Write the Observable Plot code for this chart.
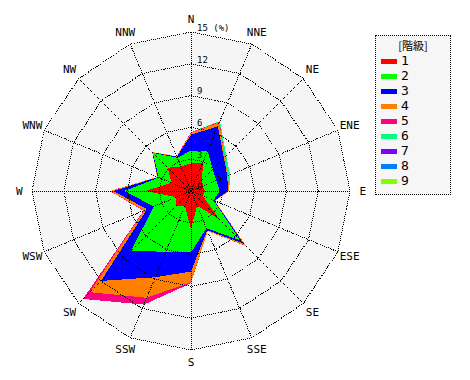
<!DOCTYPE html>
<html><head><meta charset="utf-8">
<script src="https://cdn.jsdelivr.net/npm/d3@7"></script>
<script src="https://cdn.jsdelivr.net/npm/@observablehq/plot@0.6"></script>
<style>
body{margin:0;background:#fff;}
#wrap{position:relative;width:470px;height:380px;}
#legend{position:absolute;left:375px;top:35px;width:74px;height:158px;border:1px dotted #000;background:#f6f6f6;font-family:"DejaVu Sans Mono",monospace;font-size:13px;color:#000;}
#legend .title{position:absolute;left:0;width:74px;top:2px;text-align:center;font-family:"Noto Sans CJK JP",sans-serif;font-size:11px;line-height:14px;}
#legend .row{position:absolute;left:5px;height:14px;line-height:14px;}
#legend .sw{position:absolute;left:0;top:5px;width:16px;height:5px;}
#legend .lb{position:absolute;left:20px;top:0;}
</style>
</head><body>
<div id="wrap"></div>
<script>
const directions = ["N","NNE","NE","ENE","E","ESE","SE","SSE","S","SSW","SW","WSW","W","WNW","NW","NNW"];
const ringValues = [3, 6, 9, 12, 15];
const tickValues = [0, 3, 6, 9, 12, 15];
const tickLabels = ["0", "3", "6", "9", "12", "15 (%)"];
const classNames = ["1","2","3","4","5","6","7","8","9"];
const classColors = ["#ff0000","#00ff00","#0000ff","#ff8000","#ff0080","#00ff80","#8000ff","#0080ff","#80ff00"];
const legendTitle = "[階級]";

// percentages per direction (N clockwise) for each class
const class1 = [2.6, 2.9, 1.5, 1.2, 1.3, 1.2, 3.8, 1.5, 3.6, 1.5, 2.0, 1.5, 4.3, 2.0, 3.1, 2.5];
const class2 = [1.2, 1.2, 1.4, 1.4, 1.4, 1.1, 2.8, 2.3, 2.2, 4.7, 6.0, 2.3, 2.0, 1.3, 2.0, 0.9];
const class3 = [1.5, 2.5, 1.5, 1.1, 0.8, 0.1, 0.4, 0.2, 1.8, 2.6, 4.0, 0.7, 1.0, 0.1, 0.05, 0.1];
const class4 = [0.2, 0.4, 0.1, 0.1, 0.1, 0.05, 0.3, 0.1, 1.0, 2.1, 1.5, 0.3, 0.3, 0.05, 0.05, 0.05];
const class5 = [0.05, 0.05, 0, 0, 0, 0, 0.05, 0, 0.1, 0.7, 0.9, 0.05, 0.05, 0, 0, 0];
const class6 = [0, 0.1, 0.2, 0.2, 0, 0, 0, 0, 0, 0, 0, 0, 0, 0, 0, 0];
const class7 = [0, 0, 0, 0, 0, 0, 0, 0, 0, 0, 0, 0, 0, 0, 0, 0];
const class8 = [0, 0, 0, 0, 0, 0, 0, 0, 0, 0, 0, 0, 0, 0, 0, 0];
const class9 = [0, 0, 0, 0, 0, 0, 0, 0, 0, 0, 0, 0, 0, 0, 0, 0];

const allClasses = [class1, class2, class3, class4, class5, class6, class7, class8, class9];
const ang = i => i * Math.PI / 8;
const px = (v, i) => v * Math.sin(ang(i));
const py = (v, i) => v * Math.cos(ang(i));

// cumulative layers
const layers = allClasses.map((_, k) =>
  directions.map((d, i) => {
    let s = 0;
    for (let j = 0; j <= k; j++) s += allClasses[j][i];
    return {dir: d, i, value: s};
  })
);

const rMax = 15;
const K = 10.6; // px per percent
const bg = directions.map((d, i) => ({i, value: rMax}));
const rings = ringValues.flatMap(r => directions.map((d, i) => ({ring: r, i, value: r})));
const spokes = directions.map((d, i) => ({i}));
const labelR = 16.2;

const marks = [
  Plot.line(bg, {x: d => px(d.value, d.i), y: d => py(d.value, d.i), curve: "linear-closed", fill: "#f5f5f5", stroke: "none"})
];
for (let k = allClasses.length - 1; k >= 0; k--) {
  marks.push(Plot.line(layers[k], {x: d => px(d.value, d.i), y: d => py(d.value, d.i), curve: "linear-closed", fill: classColors[k], stroke: "none", shapeRendering: "crispEdges"}));
}
marks.push(
  Plot.line(rings, {x: d => px(d.value, d.i), y: d => py(d.value, d.i), z: "ring", curve: "linear-closed", stroke: "#000", strokeWidth: 1, strokeDasharray: "1,1", strokeLinecap: "butt", shapeRendering: "crispEdges"}),
  Plot.link(spokes, {x1: () => 0, y1: () => 0, x2: d => px(rMax, d.i), y2: d => py(rMax, d.i), stroke: "#000", strokeWidth: 1, strokeDasharray: "1,1", strokeLinecap: "butt", shapeRendering: "crispEdges"}),
  Plot.text(tickValues, {x: () => 0, y: d => d, text: (d, j) => tickLabels[j], dx: 6, dy: -4, textAnchor: "start", fontFamily: "DejaVu Sans Mono", fontSize: 9, fill: "#000"}),
  Plot.text(directions, {x: (d, i) => px(labelR, i), y: (d, i) => py(labelR, i), text: d => d, textAnchor: "middle", fontFamily: "DejaVu Sans Mono", fontSize: 11, fill: "#000"})
);

const chart = Plot.plot({
  width: 470, height: 380,
  marginTop: 0, marginRight: 0, marginBottom: 0, marginLeft: 0,
  x: {domain: [-190.5 / K, 279.5 / K], range: [0, 470], axis: null},
  y: {domain: [-189.5 / K, 190.5 / K], range: [380, 0], axis: null},
  style: {background: "transparent", overflow: "visible"},
  marks
});
const wrap = document.getElementById("wrap");
wrap.appendChild(chart);

const legend = document.createElement("div");
legend.id = "legend";
const t = document.createElement("div");
t.className = "title"; t.textContent = legendTitle;
legend.appendChild(t);
classNames.forEach((name, k) => {
  const row = document.createElement("div");
  row.className = "row";
  row.style.top = (18 + k * 15) + "px";
  const sw = document.createElement("div");
  sw.className = "sw"; sw.style.background = classColors[k];
  const lb = document.createElement("div");
  lb.className = "lb"; lb.textContent = name;
  row.appendChild(sw); row.appendChild(lb);
  legend.appendChild(row);
});
wrap.appendChild(legend);
</script>
</body></html>
